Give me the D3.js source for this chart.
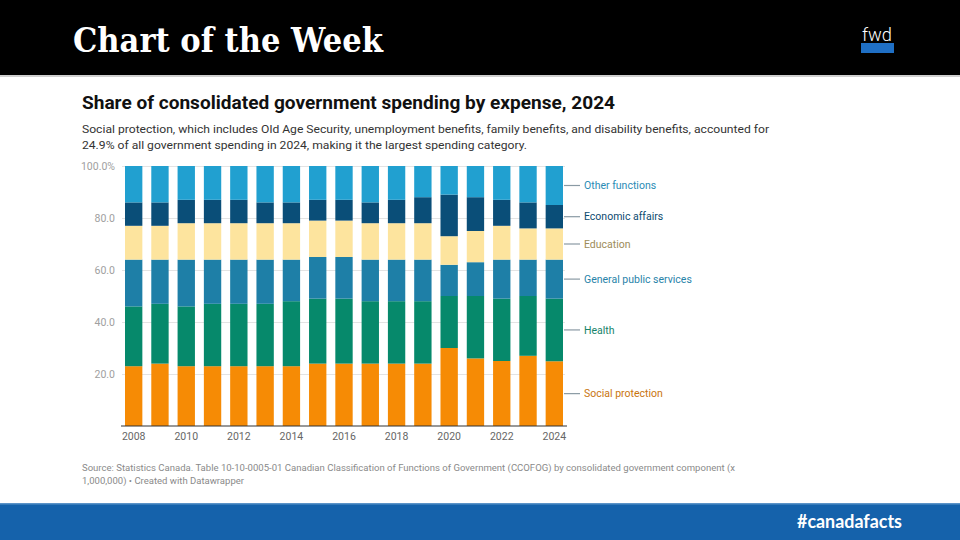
<!DOCTYPE html>
<html><head><meta charset="utf-8">
<script src="https://cdn.jsdelivr.net/npm/d3@7"></script>
<style>body{margin:0;background:#fff}svg{display:block}</style>
</head><body>
<svg id="c" width="960" height="540"></svg>
<script>
const years = [2008,2009,2010,2011,2012,2013,2014,2015,2016,2017,2018,2019,2020,2021,2022,2023,2024];
const socialProtection = [23,24,23,23,23,23,23,24,24,24,24,24,30,26,25,27,24.9];
const health          = [23,23,23,24,24,24,25,25,25,24,24,24,20,24,24,23,24.1];
const generalPublic   = [18,17,18,17,17,17,16,16,16,16,16,16,12,13,15,14,15];
const education       = [13,13,14,14,14,14,14,14,14,14,14,14,11,12,13,12,12];
const economicAffairs = [9,9,9,9,9,8,8,8,8,8,9,10,16,13,10,10,9];
const otherFunctions  = [14,14,13,13,13,14,14,13,13,14,13,12,11,12,13,14,15];
const seriesNames = ["Social protection","Health","General public services","Education","Economic affairs","Other functions"];
const seriesValues = [socialProtection, health, generalPublic, education, economicAffairs, otherFunctions];
const barColors = ["#f68b05","#06896b","#1e7fa7","#fde49e","#0a4e78","#21a0d0"];
const labelColors = ["#c9740e","#17836a","#2883a9","#9d8c58","#0d4b6f","#2b8bb5"];
const yTicks = [20,40,60,80,100];
const xTicks = [2008,2010,2012,2014,2016,2018,2020,2022,2024];

const svg = d3.select("#c");
const F = "Roboto, 'Open Sans', sans-serif";

// header
svg.append("rect").attr("x",0).attr("y",0).attr("width",960).attr("height",75).attr("fill","#000");
svg.append("rect").attr("x",0).attr("y",75).attr("width",960).attr("height",2).attr("fill","#cfcfcf");
svg.append("text").attr("x",73).attr("y",52).attr("fill","#fff")
  .attr("font-family","'DejaVu Serif', serif").attr("font-weight","bold").attr("font-size",34)
  .attr("textLength",310).attr("lengthAdjust","spacingAndGlyphs").text("Chart of the Week");
svg.append("text").attr("x",877).attr("y",41).attr("fill","#fff").attr("text-anchor","middle")
  .attr("font-family",F).attr("font-size",18).attr("font-weight",300).attr("textLength",30).attr("lengthAdjust","spacingAndGlyphs").text("fwd");
svg.append("rect").attr("x",861).attr("y",43).attr("width",33).attr("height",10).attr("fill","#1f6fc4");

// titles
svg.append("text").attr("x",82).attr("y",109).attr("fill","#111").attr("font-family",F).attr("font-weight","bold")
  .attr("font-size",18).attr("textLength",533).attr("lengthAdjust","spacingAndGlyphs")
  .text("Share of consolidated government spending by expense, 2024");
svg.append("text").attr("x",82).attr("y",133).attr("fill","#333").attr("font-family",F).attr("font-size",11.5)
  .attr("textLength",687).attr("lengthAdjust","spacingAndGlyphs")
  .text("Social protection, which includes Old Age Security, unemployment benefits, family benefits, and disability benefits, accounted for");
svg.append("text").attr("x",82).attr("y",149).attr("fill","#333").attr("font-family",F).attr("font-size",11.5)
  .attr("textLength",445).attr("lengthAdjust","spacingAndGlyphs")
  .text("24.9% of all government spending in 2024, making it the largest spending category.");

// scales
const x = d3.scaleBand().domain(years).range([125,563]).paddingInner(0.34).paddingOuter(0);
const y = d3.scaleLinear().domain([0,100]).range([426,166]);

// grid + y axis
const gy = svg.append("g").attr("transform","translate(122,0)")
  .call(d3.axisLeft(y).tickValues(yTicks).tickSize(-443).tickPadding(7)
    .tickFormat(d => d === 100 ? "100.0%" : d3.format(".1f")(d)));
gy.select(".domain").remove();
gy.selectAll(".tick line").attr("stroke","#e3e3e3");
gy.selectAll(".tick text").attr("fill","#a0a0a0").attr("font-family",F).attr("font-size",10.5);

// stack
const rows = years.map((yr,i) => { const r = {year: yr}; seriesNames.forEach((s,j)=> r[s] = seriesValues[j][i]); return r; });
const stacked = d3.stack().keys(seriesNames)(rows);
svg.append("g").selectAll("g").data(stacked).join("g").attr("fill",(d,i)=>barColors[i])
  .selectAll("rect").data(d=>d).join("rect")
  .attr("x", d=>x(d.data.year)).attr("width", x.bandwidth())
  .attr("y", d=>y(d[1])).attr("height", d=>y(d[0])-y(d[1]));

// baseline + x axis
svg.append("line").attr("x1",x.range()[0]-4).attr("x2",x.range()[1]+4).attr("y1",y(0)).attr("y2",y(0))
  .attr("stroke","#333").attr("stroke-width",1.2);
const gx = svg.append("g").attr("transform",`translate(0,${y(0)})`)
  .call(d3.axisBottom(x).tickValues(xTicks).tickSize(0).tickPadding(7));
gx.select(".domain").remove();
gx.selectAll(".tick text").attr("fill","#666").attr("font-family",F).attr("font-size",10.5);

// direct labels
const last = years.length - 1;
const lx = x(years[last]) + x.bandwidth();
const lab = svg.append("g");
stacked.forEach((s,i) => {
  const d = s[last]; const ym = y((d[0]+d[1])/2);
  lab.append("line").attr("x1",lx+1).attr("x2",lx+17).attr("y1",ym).attr("y2",ym).attr("stroke","#8a9aa4").attr("stroke-width",1.2);
  lab.append("text").attr("x",lx+21).attr("y",ym).attr("dy","0.35em").attr("fill",labelColors[i])
    .attr("font-family",F).attr("font-size",10.5).text(seriesNames[i]);
});

// source
svg.append("text").attr("x",82).attr("y",471).attr("fill","#8a8a8a").attr("font-family",F).attr("font-size",9)
  .attr("textLength",653).attr("lengthAdjust","spacingAndGlyphs")
  .text("Source: Statistics Canada. Table 10-10-0005-01 Canadian Classification of Functions of Government (CCOFOG) by consolidated government component (x");
svg.append("text").attr("x",82).attr("y",484).attr("fill","#8a8a8a").attr("font-family",F).attr("font-size",9)
  .attr("textLength",162).attr("lengthAdjust","spacingAndGlyphs")
  .text("1,000,000) • Created with Datawrapper");

// footer
svg.append("rect").attr("x",0).attr("y",503).attr("width",960).attr("height",37).attr("fill","#1562ab");
svg.append("rect").attr("x",0).attr("y",503).attr("width",960).attr("height",1.5).attr("fill","#5b93c8");
svg.append("text").attr("x",902).attr("y",528).attr("text-anchor","end").attr("fill","#fff")
  .attr("font-family","Lato, 'Open Sans', sans-serif").attr("font-weight","bold").attr("font-size",18)
  .attr("textLength",105).attr("lengthAdjust","spacingAndGlyphs").text("#canadafacts");
</script>
</body></html>
